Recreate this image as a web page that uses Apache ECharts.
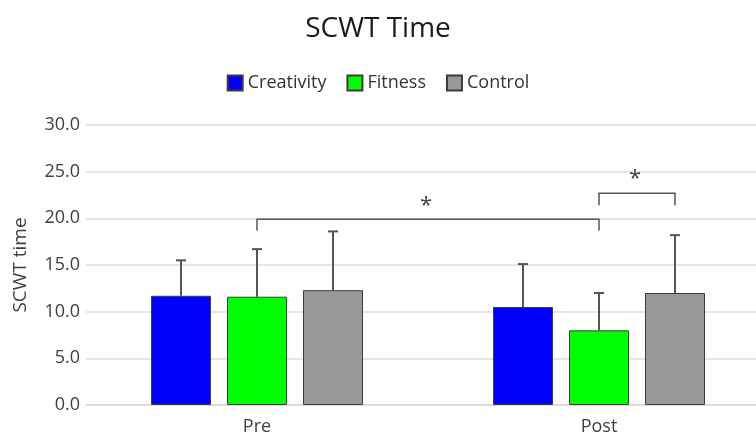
<!DOCTYPE html>
<html>
<head>
<meta charset="utf-8">
<script src="https://cdn.jsdelivr.net/npm/echarts@6/dist/echarts.min.js"></script>
<style>
  html, body { margin: 0; padding: 0; background: #ffffff; }
  #chart { width: 756px; height: 441px; }
</style>
</head>
<body>
<div id="chart"></div>
<script>
// Time points and groups
const timepoints = ['Pre', 'Post'];
const groups = ['Creativity', 'Fitness', 'Control'];
const groupColors = ['#0000ff', '#00ff00', '#999999'];

// Mean SCWT time per group (Pre, Post)
const creativityMean = [11.7, 10.5];
const fitnessMean = [11.6, 8.0];
const controlMean = [12.3, 12.0];

// Standard deviations (upper error bar length)
const creativitySD = [3.8, 4.6];
const fitnessSD = [5.1, 4.0];
const controlSD = [6.3, 6.2];

// Y axis ticks
const yMin = 0, yMax = 30, yStep = 5;

// Significance brackets: [timepointA, groupA, timepointB, groupB, bracket level, leg end]
const brackets = [
  [0, 1, 1, 1, 19.9, 18.7],
  [1, 1, 1, 2, 22.7, 21.4]
];
const bracketMarks = ['*', '*'];

const means = [creativityMean, fitnessMean, controlMean];
const sds = [creativitySD, fitnessSD, controlSD];

const FONT = '"Open Sans", sans-serif';
const BAR_W = 60;
const BAR_STEP = 76; // bar width + gap between bars within a timepoint

function groupOffset(g) { return (g - (groups.length - 1) / 2) * BAR_STEP; }

const barSeries = groups.map((name, g) => ({
  name: name,
  type: 'bar',
  data: means[g],
  barWidth: BAR_W,
  barGap: ((BAR_STEP - BAR_W) / BAR_W * 100).toFixed(2) + '%',
  itemStyle: { color: groupColors[g], borderColor: '#3c3c3c', borderWidth: 1 },
  z: 2
}));

// Upper error bars, one item per (timepoint, group)
const errData = [];
groups.forEach((_, g) => timepoints.forEach((_, t) => {
  errData.push([t, means[g][t], means[g][t] + sds[g][t], g]);
}));

const errorSeries = {
  type: 'custom',
  name: 'err',
  data: errData,
  z: 3,
  silent: true,
  renderItem: function (params, api) {
    const t = api.value(0), g = api.value(3);
    const base = api.coord([t, api.value(1)]);
    const top = api.coord([t, api.value(2)]);
    const x = base[0] + groupOffset(g);
    const style = { stroke: '#555555', lineWidth: 2 };
    return {
      type: 'group',
      children: [
        { type: 'line', shape: { x1: x, y1: base[1], x2: x, y2: top[1] }, style },
        { type: 'line', shape: { x1: x - 5, y1: top[1], x2: x + 5, y2: top[1] }, style }
      ]
    };
  }
};

const bracketSeries = {
  type: 'custom',
  name: 'sig',
  data: brackets.map((b, i) => b.concat([i])),
  z: 4,
  silent: true,
  renderItem: function (params, api) {
    const ta = api.value(0), ga = api.value(1), tb = api.value(2), gb = api.value(3);
    const level = api.value(4), leg = api.value(5);
    const pa = api.coord([ta, level]);
    const pb = api.coord([tb, level]);
    const legY = api.coord([ta, leg])[1];
    const xa = pa[0] + groupOffset(ga);
    const xb = pb[0] + groupOffset(gb);
    const y = pa[1];
    const style = { stroke: '#555555', lineWidth: 1.5, fill: null };
    return {
      type: 'group',
      children: [
        { type: 'polyline', shape: { points: [[xa, legY], [xa, y], [xb, y], [xb, legY]] }, style },
        {
          type: 'text',
          style: {
            text: bracketMarks[api.value(6)],
            x: (xa + xb) / 2 - 2, y: y - 3,
            align: 'center', verticalAlign: 'bottom',
            font: '22px ' + FONT,
            fill: '#404040'
          }
        }
      ]
    };
  }
};

const chart = echarts.init(document.getElementById('chart'), null, { renderer: 'canvas' });
chart.setOption({
  backgroundColor: '#ffffff',
  animation: false,
  title: {
    text: 'SCWT Time',
    left: 'center',
    top: 10,
    textStyle: { fontFamily: 'Open Sans', fontSize: 28, fontWeight: 'normal', color: '#1a1a1a' }
  },
  legend: {
    data: groups,
    top: 69,
    left: 'center',
    icon: 'rect',
    itemWidth: 15,
    itemHeight: 15,
    itemGap: 20,
    textStyle: { fontFamily: 'Open Sans', fontSize: 18, color: '#333333' }
  },
  grid: { left: 86, top: 125, width: 684, bottom: 36, containLabel: false, outerBoundsMode: 'none' },
  xAxis: {
    type: 'category',
    data: timepoints,
    axisTick: { show: false },
    axisLine: { show: true, lineStyle: { color: '#d9d9d9', width: 1.5 } },
    axisLabel: { margin: 13, fontFamily: 'Open Sans', fontSize: 18, color: '#404040' }
  },
  yAxis: {
    type: 'value',
    min: yMin,
    max: yMax,
    interval: yStep,
    name: 'SCWT time',
    nameLocation: 'middle',
    nameGap: 56,
    nameTextStyle: { fontFamily: 'Open Sans', fontSize: 19, color: '#404040' },
    axisLine: { show: false },
    axisTick: { show: false },
    axisLabel: {
      margin: 6,
      fontFamily: 'Open Sans',
      fontSize: 18,
      color: '#404040',
      formatter: v => v.toFixed(1)
    },
    splitLine: { lineStyle: { color: '#dcdcdc', width: 1.5 } }
  },
  series: barSeries.concat([errorSeries, bracketSeries])
});
</script>
</body>
</html>
